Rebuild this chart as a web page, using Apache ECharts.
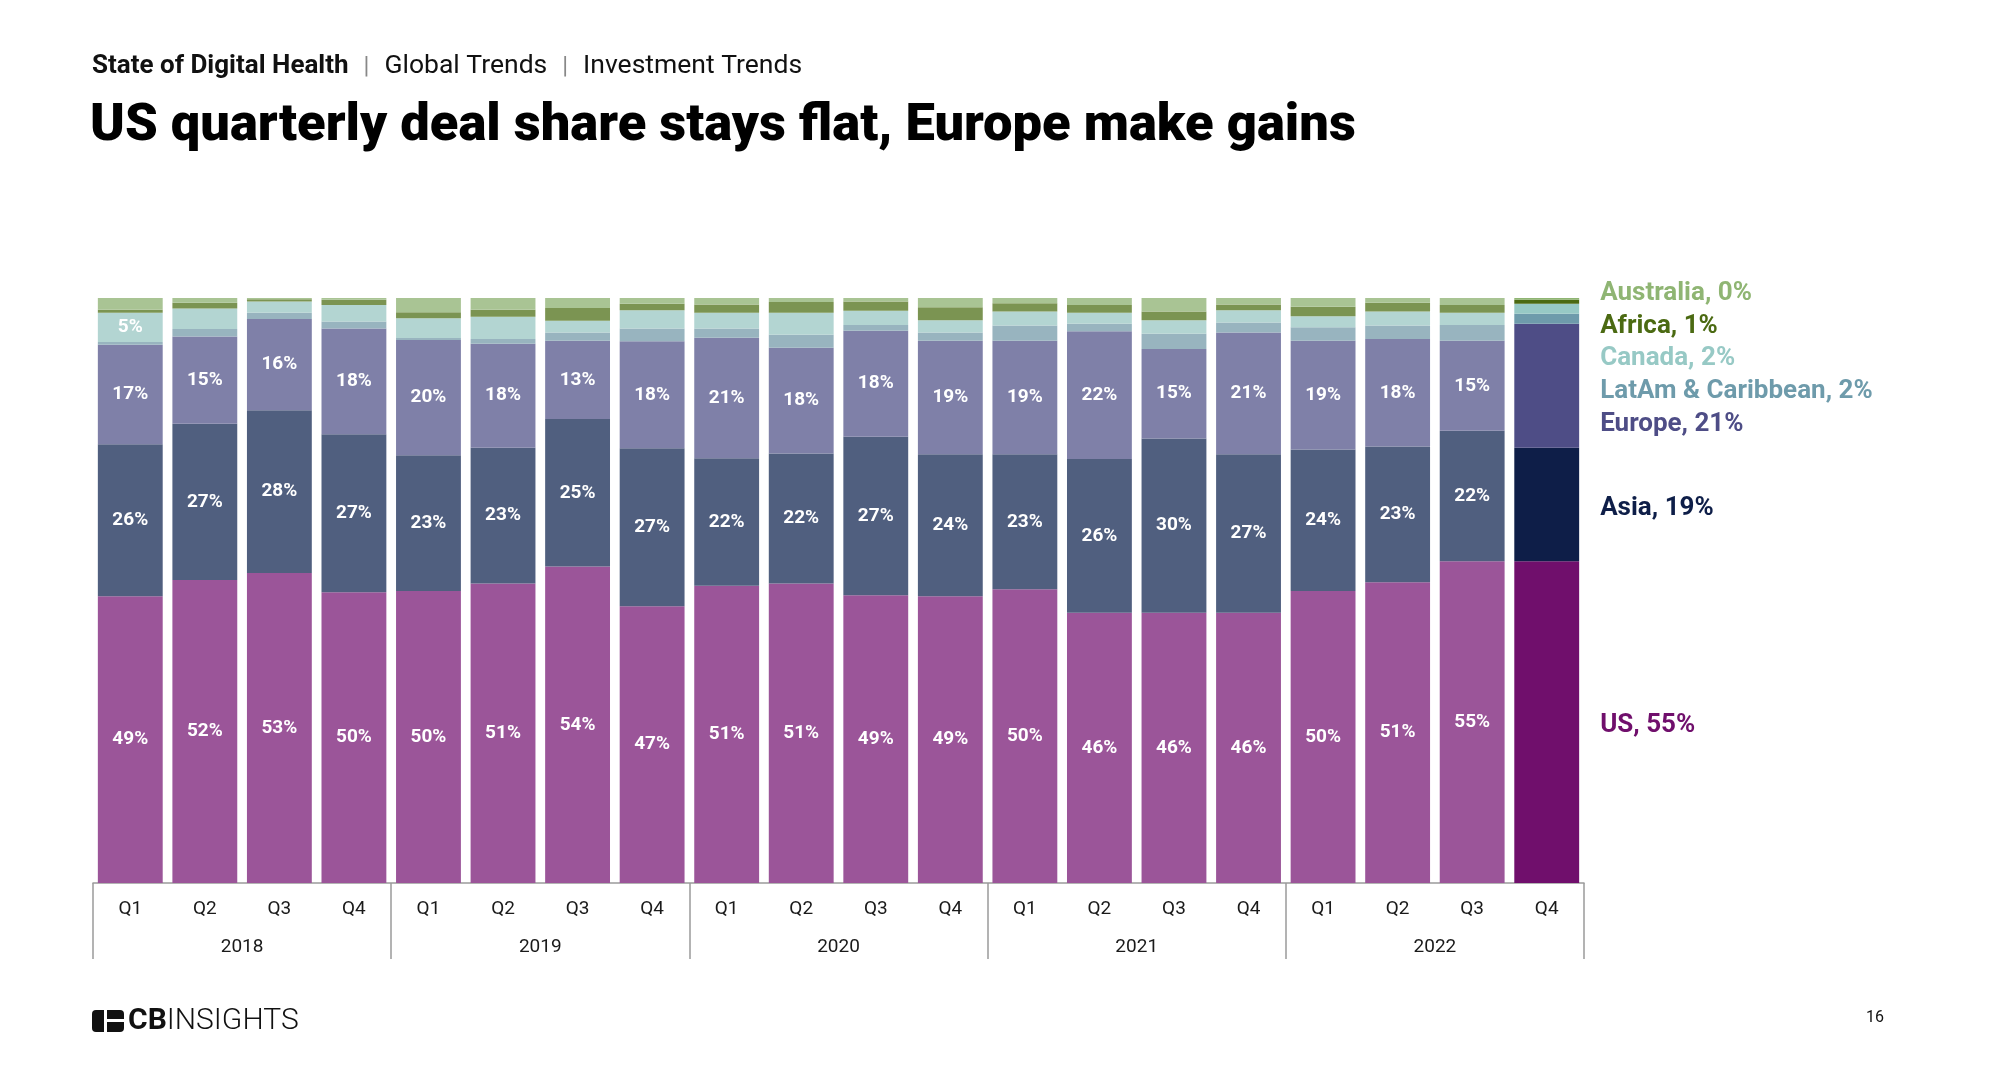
<!DOCTYPE html>
<html><head><meta charset="utf-8">
<script src="https://cdn.jsdelivr.net/npm/echarts@6/dist/echarts.min.js"></script>
<style>html,body{margin:0;padding:0;background:#fff}#c{width:1999px;height:1091px}</style>
</head><body><div id="c"></div>
<script>
const quarters = ['Q1','Q2','Q3','Q4','Q1','Q2','Q3','Q4','Q1','Q2','Q3','Q4','Q1','Q2','Q3','Q4','Q1','Q2','Q3','Q4'];
const years = ['2018','2019','2020','2021','2022'];
const us        = [49, 51.8, 53, 49.7, 49.9, 51.2, 54.1, 47.3, 50.8, 51.2, 49.2, 49, 50.2, 46.2, 46.2, 46.2, 49.9, 51.4, 55, 55];
const asia      = [26, 26.7, 27.8, 27, 23.2, 23.2, 25.2, 27, 21.8, 22.2, 27.1, 24.3, 23.1, 26.3, 29.8, 27.1, 24.2, 23.2, 22.3, 19.4];
const europe    = [17, 14.9, 15.6, 18.1, 19.7, 17.8, 13.4, 18.3, 20.6, 18.1, 18.1, 19.4, 19.4, 21.8, 15.3, 20.8, 18.6, 18.4, 15.4, 21.2];
const latam     = [0.5, 1.3, 1.1, 1.2, 0.35, 0.8, 1.4, 2.2, 1.6, 2.2, 1.0, 1.4, 2.6, 1.3, 2.6, 1.7, 2.3, 2.3, 2.7, 1.7];
const canada    = [5, 3.5, 1.9, 2.8, 3.4, 3.8, 2.0, 3.1, 2.7, 3.8, 2.4, 2.1, 2.4, 1.9, 2.3, 2.1, 1.9, 2.4, 2.1, 1.7];
const africa    = [0.5, 1.0, 0.4, 0.9, 1.0, 1.2, 2.2, 1.1, 1.4, 1.8, 1.6, 2.2, 1.4, 1.3, 1.5, 1.0, 1.6, 1.5, 1.3, 0.7];
const australia = [2, 0.8, 0.2, 0.3, 2.45, 2.0, 1.7, 1.0, 1.1, 0.7, 0.6, 1.6, 0.9, 1.2, 2.3, 1.1, 1.5, 0.8, 1.2, 0.3];

const FONT = 'Roboto';
const defs = [
  {name:'US', values:us, hist:'#9b5599', last:'#700f6c', inBar:'all', dy:3},
  {name:'Asia', values:asia, hist:'#505f7f', last:'#0e1e48', inBar:'all', dy:4},
  {name:'Europe', values:europe, hist:'#7f80a8', last:'#4e4d86', inBar:'all', dy:39},
  {name:'LatAm & Caribbean', values:latam, hist:'#98b4bf', last:'#6e9bab', inBar:'none', dy:73},
  {name:'Canada', values:canada, hist:'#b3d5d2', last:'#97c9c5', inBar:'first', dy:50},
  {name:'Africa', values:africa, hist:'#7b9452', last:'#4b6a12', inBar:'none', dy:25},
  {name:'Australia', values:australia, hist:'#a9c494', last:'#8fb573', inBar:'none', dy:-5}
];
const n = quarters.length;
const series = defs.map(d => ({
  name: d.name, type:'bar', stack:'total', barCategoryGap:'13%',
  itemStyle:{color:d.hist},
  label:{show:false, color:'#fff', fontFamily:FONT, fontWeight:'bold', fontSize:19,
         formatter: p => Math.round(p.value) + '%'},
  data: d.values.map((v,i) => {
    if (i === n-1) {
      return {value:v, itemStyle:{color:d.last},
        label:{show:true, position:'right', distance:21, offset:[0,d.dy], color:d.last,
               fontFamily:FONT, fontWeight:'bold', fontSize:26,
               formatter: d.name + ', ' + Math.round(v) + '%'}};
    }
    const show = d.inBar==='all' || (d.inBar==='first' && i===0);
    return {value:v, label:{show:show}};
  })
}));

const chart = echarts.init(document.getElementById('c'));
chart.setOption({
  backgroundColor:'#fff',
  animation:false,
  grid:{left:93, right:415, top:298, bottom:208},
  xAxis:[
    {type:'category', data:quarters, position:'bottom',
     axisLine:{show:true, lineStyle:{color:'#9a9a9a', width:1.5}},
     axisTick:{show:false},
     axisLabel:{color:'#1a1a1a', fontFamily:FONT, fontSize:19, margin:17}},
    {type:'category', data:years, position:'bottom',
     axisLine:{show:false},
     axisTick:{show:true, length:76, lineStyle:{color:'#9a9a9a', width:1.5}},
     axisLabel:{color:'#1a1a1a', fontFamily:FONT, fontSize:19, margin:55}}
  ],
  yAxis:{type:'value', min:0, max:100, show:false},
  series: series,
  graphic:[
    {type:'text', left:92, top:53, style:{
      text:'{b|State of Digital Health}{s||}{r|Global Trends}{s||}{r|Investment Trends}',
      rich:{
        b:{fontFamily:FONT, fontWeight:'bold', fontSize:26, fill:'#111'},
        r:{fontFamily:FONT, fontSize:26.5, fill:'#111'},
        s:{fontFamily:FONT, fontSize:24, fill:'#888', padding:[0,15,0,15]}
      }}},
    {type:'text', left:90, top:100, style:{
      text:'US quarterly deal share stays flat, Europe make gains',
      fontFamily:FONT, fontWeight:900, fontSize:52.5, fill:'#000'}},
    {type:'group', left:92, top:1006, children:[
      {type:'rect', shape:{x:0, y:0, width:32, height:22, r:4}, style:{fill:'#111'}},
      {type:'rect', shape:{x:12, y:0, width:3, height:22}, style:{fill:'#fff'}},
      {type:'rect', shape:{x:15, y:9, width:17, height:3}, style:{fill:'#fff'}},
      {type:'text', x:36, y:-4, style:{
        text:'{c|CB}{i|INSIGHTS}',
        rich:{
          c:{fontFamily:FONT, fontWeight:'bold', fontSize:30, fill:'#111'},
          i:{fontFamily:'Roboto', fontWeight:300, fontSize:30, fill:'#111'}
        }}}
    ]},
    {type:'text', left:1866, top:1010, style:{text:'16', fontFamily:FONT, fontSize:16, fill:'#111'}}
  ]
});
</script>
</body></html>
